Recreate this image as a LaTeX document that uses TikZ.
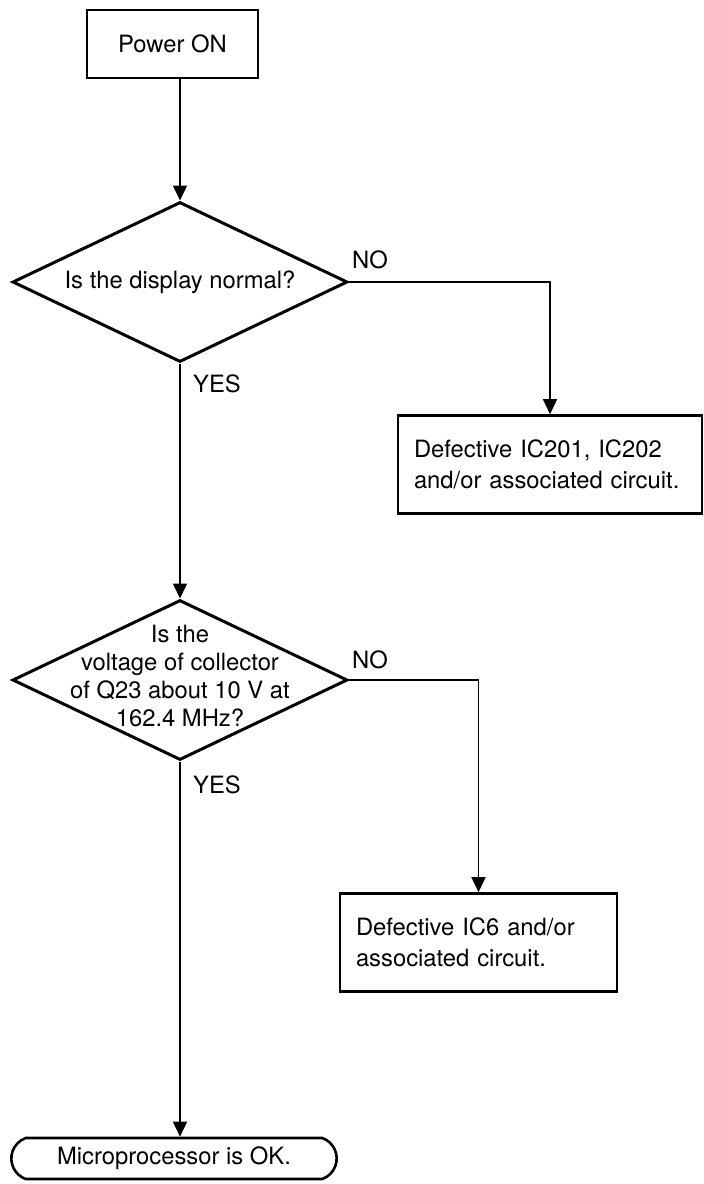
\documentclass[tikz,border=0pt]{standalone}
\usepackage{fontspec}
\setmainfont{TeX Gyre Heros}
\usetikzlibrary{shapes.geometric,shapes.misc,arrows.meta}
\newcommand\flowfont{\fontsize{23.8}{28}\selectfont}
\newcommand\boxfont{\fontsize{23.8}{30.5}\selectfont}
\tikzset{startbox/.style={
    draw, line width=2.6pt,
    minimum width=171pt, minimum height=68pt,
    font=\flowfont
  },
  decision/.style={
    draw, diamond, line width=3pt,
    minimum width=335pt, minimum height=160pt,
    inner sep=0pt
  },
  qtext/.style={align=center, inner sep=0pt, font=\flowfont},
  result/.style={
    draw, line width=2.6pt,
    inner xsep=16pt,
    text width=#1,
    minimum height=98pt,
    align=left,
    font=\boxfont
  },
  result/.default=240pt,
  terminal/.style={
    draw, rounded rectangle, rounded rectangle arc length=140,
    line width=2.6pt,
    minimum width=332pt, minimum height=41pt,
    font=\flowfont
  },
  lbl/.style={inner sep=0pt, font=\flowfont},
  flow/.style={line width=1.5pt, -{Triangle[length=15pt,width=14pt]}}
}
\begin{document}
\begin{tikzpicture}[x=1pt,y=-1pt]
    \useasboundingbox (0,0) rectangle (704,1184);
    \node[startbox] (power) at (172.5,44) {Power ON};
    \node[decision] (d1) at (180,282) {};
    \node[qtext] (d1txt) at (d1.center) {Is the display normal?};
    \node[result=272pt] (b2) at (550,464.5) {Defective IC201, IC202\\and/or associated circuit.};
    \node[decision] (d2) at (180,680) {};
    \node[qtext] (d2txt) at ([yshift=4pt]d2.center) {Is the\\voltage of collector\\of Q23 about 10 V at\\162.4 MHz?};
    \node[result=245pt] (b3) at (478.5,942.5) {Defective IC6 and/or\\associated circuit.};
    \node[terminal] (term) at (174,1158.5) {Microprocessor is OK.};
    \node[lbl, anchor=south west] (no1) at ([xshift=3pt,yshift=13pt]d1.east) {NO};
    \node[lbl, anchor=north west] (yes1) at ([xshift=13pt,yshift=-11pt]d1.south) {YES};
    \node[lbl, anchor=south west] (no2) at ([xshift=3pt,yshift=11pt]d2.east) {NO};
    \node[lbl, anchor=north west] (yes2) at ([xshift=13pt,yshift=-14pt]d2.south) {YES};
    \draw[flow] (power.south -| d1.north) -- (d1.north);
    \draw[flow] (d1.south) -- (d2.north);
    \draw[flow] (d2.south) -- (d2.south |- term.north);
    \draw[flow] (d1.east) -| (b2.north);
    \draw[flow] (d2.east) -| (b3.north);
\end{tikzpicture}
\end{document}
